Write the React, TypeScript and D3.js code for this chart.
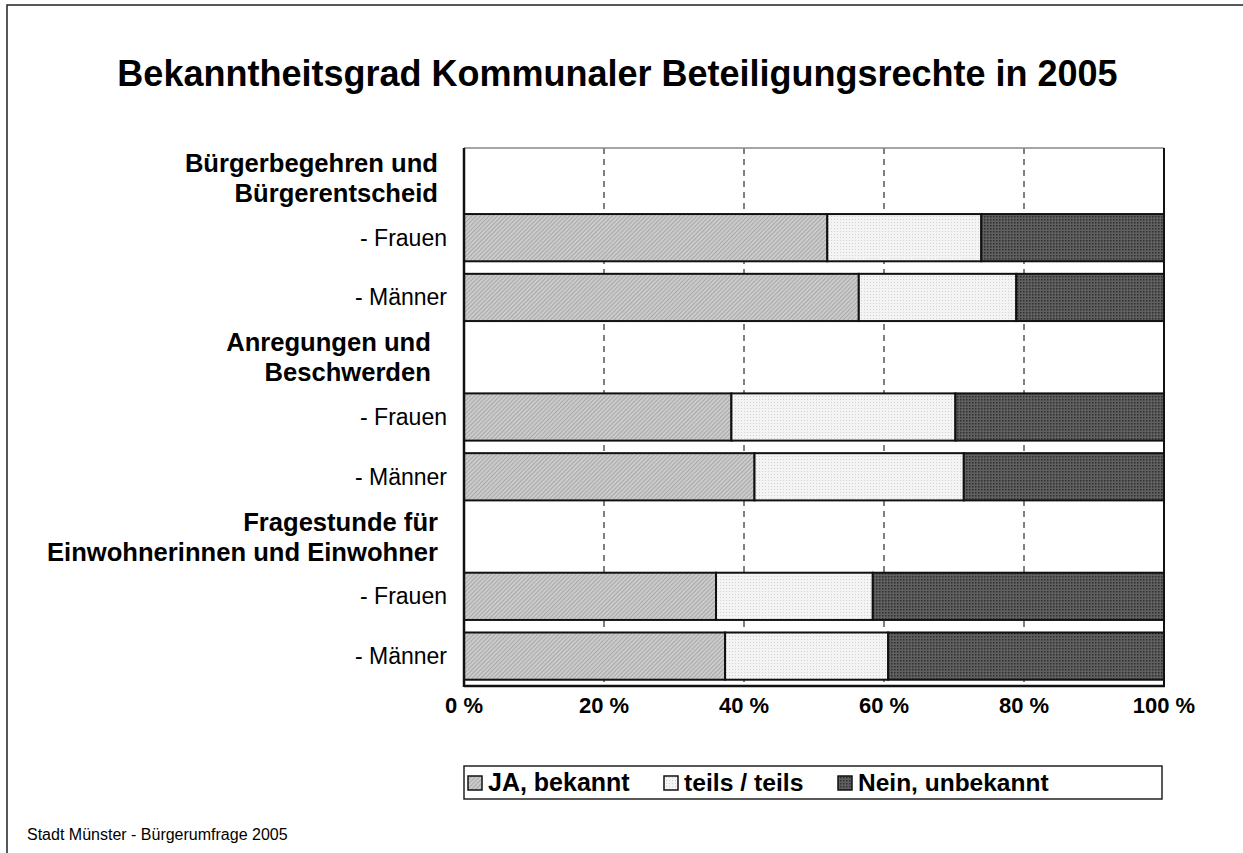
import React from "react";
import * as d3 from "d3";

const title = "Bekanntheitsgrad Kommunaler Beteiligungsrechte in 2005";
const groupLabels: string[][] = [
  ["Bürgerbegehren und", "Bürgerentscheid"],
  ["Anregungen und ", "Beschwerden "],
  ["Fragestunde für", "Einwohnerinnen und Einwohner"],
];
const subLabels = ["- Frauen", "- Männer"];
const seriesNames = ["JA, bekannt", "teils / teils", "Nein, unbekannt"];
// order: G1 Frauen, G1 Männer, G2 Frauen, G2 Männer, G3 Frauen, G3 Männer
const jaValues = [51.9, 56.4, 38.2, 41.5, 36.0, 37.3];
const teilsValues = [22.0, 22.5, 32.0, 29.9, 22.4, 23.3];
const neinValues = [26.1, 21.1, 29.8, 28.6, 41.6, 39.4];
const tickValues = [0, 20, 40, 60, 80, 100];
const footer = "Stadt Münster - Bürgerumfrage 2005";

const FONT = "Liberation Sans, Arial, sans-serif";

export default function App() {
  const W = 1243, H = 853;
  const left = 464, right = 1164, top = 148, bottom = 686;
  const x = d3.scaleLinear().domain([0, 100]).range([left, right]);
  const rowKeys: string[] = [];
  groupLabels.forEach((_, g) => {
    rowKeys.push(`h${g}`);
    subLabels.forEach((_, s) => rowKeys.push(`b${g}_${s}`));
  });
  const y = d3.scaleBand<string>().domain(rowKeys).range([top, bottom]).paddingInner(0.21).paddingOuter(0.105);
  const series = [jaValues, teilsValues, neinValues];
  const fills = ["url(#pJa)", "url(#pTeils)", "url(#pNein)"];

  const bars: { key: string; x0: number; x1: number; fill: string }[] = [];
  groupLabels.forEach((_, g) => {
    subLabels.forEach((_, s) => {
      const idx = g * subLabels.length + s;
      const stack = d3.cumsum(series.map((arr) => arr[idx]));
      series.forEach((arr, k) => {
        bars.push({ key: `b${g}_${s}`, x0: k === 0 ? 0 : stack[k - 1], x1: stack[k], fill: fills[k] });
      });
    });
  });

  const legendX = [468, 664, 838];
  const legendSizes = [25, 24.7, 24.5];

  return (
    <div style={{ position: "fixed", left: 0, top: 0, width: W, height: H, background: "#fff" }}>
      <svg width={W} height={H} style={{ display: "block" }} fontFamily={FONT}>
        <defs>
          <pattern id="pJa" width="3" height="3" patternUnits="userSpaceOnUse" patternTransform="rotate(45)">
            <rect width="3" height="3" fill="#cbcbcb" />
            <rect width="1" height="3" fill="#a9a9a9" />
          </pattern>
          <pattern id="pTeils" width="3" height="3" patternUnits="userSpaceOnUse">
            <rect width="3" height="3" fill="#f4f4f4" />
            <rect width="1" height="1" fill="#d2d2d2" />
          </pattern>
          <pattern id="pNein" width="3" height="3" patternUnits="userSpaceOnUse">
            <rect width="3" height="3" fill="#606060" />
            <rect width="1.5" height="1.5" fill="#2e2e2e" />
          </pattern>
        </defs>
        <rect x={0} y={0} width={W} height={H} fill="#fff" />
        <rect x={7} y={5} width={W + 20} height={H + 20} fill="none" stroke="#222" strokeWidth={1.5} />

        <text x={617.5} y={86} textAnchor="middle" fontSize={36} fontWeight="bold" fill="#000">{title}</text>

        {/* gridlines */}
        {tickValues.slice(1, -1).map((t) => (
          <line key={t} x1={x(t)} x2={x(t)} y1={top} y2={bottom} stroke="#000" strokeWidth={1} strokeDasharray="6,5" />
        ))}
        {/* frame */}
        <line x1={left} x2={right} y1={top} y2={top} stroke="#888" strokeWidth={1.5} />
        <line x1={right} x2={right} y1={top} y2={bottom} stroke="#111" strokeWidth={2} />

        {bars.map((b, i) => (
          <rect key={i} x={x(b.x0)} y={y(b.key)!} width={x(b.x1) - x(b.x0)} height={y.bandwidth()} fill={b.fill} stroke="#111" strokeWidth={2} />
        ))}

        <line x1={left} x2={left} y1={top} y2={bottom + 1} stroke="#111" strokeWidth={2.5} />
        <line x1={left} x2={right + 1} y1={bottom} y2={bottom} stroke="#111" strokeWidth={2.5} />

        {/* group labels */}
        {groupLabels.map((lines, g) => {
          const cy = y(`h${g}`)! + y.bandwidth() / 2;
          return (
            <text key={g} textAnchor="end" fontSize={25.6} fontWeight="bold" fill="#000">
              {lines.map((ln, j) => (
                <tspan key={j} x={438} y={cy + (j - 0.5) * 30 + 9} style={{ whiteSpace: "pre" }}>{ln}</tspan>
              ))}
            </text>
          );
        })}
        {groupLabels.map((_, g) =>
          subLabels.map((s, k) => (
            <text key={`${g}${k}`} x={447} y={y(`b${g}_${k}`)! + y.bandwidth() / 2 + 8} textAnchor="end" fontSize={23} fill="#000">{s}</text>
          ))
        )}

        {/* tick labels */}
        {tickValues.map((t) => (
          <text key={t} x={x(t)} y={713} textAnchor="middle" fontSize={22} fontWeight="bold" fill="#000">{`${t} %`}</text>
        ))}

        {/* legend */}
        <rect x={464} y={766} width={698} height={33} fill="#fff" stroke="#222" strokeWidth={1.5} />
        {seriesNames.map((n, k) => (
          <g key={n}>
            <rect x={legendX[k]} y={776} width={14} height={14} fill={fills[k]} stroke="#111" strokeWidth={1.5} />
            <text x={legendX[k] + 20} y={791} fontSize={legendSizes[k]} fontWeight="bold" fill="#000">{n}</text>
          </g>
        ))}

        <text x={27} y={840} fontSize={16} fill="#000">{footer}</text>
      </svg>
    </div>
  );
}
